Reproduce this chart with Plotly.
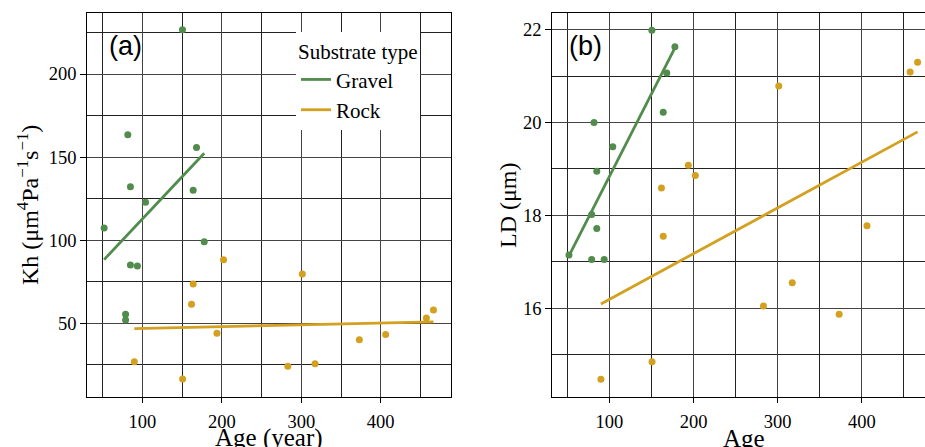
import numpy as np
import plotly.graph_objects as go

# ---------------- data ----------------
gravel_age = [150.4, 81.6, 168.1, 84.9, 163.9, 103.9, 51.8, 177.8, 84.9, 93.7, 78.8, 78.8]
gravel_kh = [226.6, 163.4, 155.8, 132.2, 130.0, 122.8, 107.4, 99.0, 85.0, 84.4, 55.4, 52.0]
gravel_ld = [21.99, 20.0, 21.07, 18.95, 20.22, 19.48, 17.15, 21.63, 17.72, 17.05, 18.02, 17.05]

rock_age = [202.1, 301.3, 163.9, 161.8, 466.4, 457.5, 193.8, 406.2, 373.1, 89.8, 317.3, 283.1, 150.6]
rock_kh = [88.2, 79.6, 73.6, 61.4, 58.0, 53.2, 44.0, 43.2, 40.0, 26.8, 25.6, 24.2, 16.4]
rock_ld = [18.86, 20.79, 17.55, 18.59, 21.30, 21.09, 19.08, 17.78, 15.87, 14.47, 16.55, 16.05, 14.85]

groups = ["Gravel", "Rock"]
panel_labels = ["(a)", "(b)"]
x_titles = ["Age (year)", "Age"]
y_titles = ["Kh (μm<sup>4</sup>Pa<sup>−1</sup>s<sup>−1</sup>)", "LD (μm)"]

GREEN = "#518c4c"
GOLD = "#d3a020"
W, H = 925, 447


def fit(x, y):
    x = np.asarray(x, float)
    y = np.asarray(y, float)
    b, a = np.polyfit(x, y, 1)
    xs = np.array([x.min(), x.max()])
    return xs, a + b * xs


fig = go.Figure()

series = [
    (gravel_age, gravel_kh, gravel_ld, GREEN, groups[0]),
    (rock_age, rock_kh, rock_ld, GOLD, groups[1]),
]

for ax_i, (xa, ya) in enumerate([("x", "y"), ("x2", "y2")]):
    for age, kh, ld, col, name in series:
        yv = kh if ax_i == 0 else ld
        fx, fy = fit(age, yv)
        fig.add_trace(go.Scatter(x=fx, y=fy, mode="lines", line=dict(color=col, width=2.8),
                                 name=name, showlegend=(ax_i == 0), xaxis=xa, yaxis=ya,
                                 hoverinfo="skip"))
        fig.add_trace(go.Scatter(x=age, y=yv, mode="markers", marker=dict(color=col, size=7),
                                 showlegend=False, xaxis=xa, yaxis=ya))

SERIF = "Liberation Serif"
tickfont = dict(family=SERIF, size=18.5, color="black")
grid_major = "#444444"
grid_minor = "#222222"


def xax(domain, rng, anchor):
    return dict(domain=domain, range=rng, tickmode="linear", tick0=0, dtick=100, anchor=anchor,
                showgrid=True, gridcolor=grid_major, gridwidth=1.3,
                minor=dict(dtick=50, tick0=0, showgrid=True, gridcolor=grid_minor, gridwidth=1, ticks=""),
                showline=True, linecolor="black", linewidth=1.3, mirror=True,
                ticks="outside", ticklen=5, tickcolor="black", tickfont=tickfont, zeroline=False,
                ticklabelstandoff=3)


def yax(domain, rng, dtick, minor, anchor):
    return dict(domain=domain, range=rng, tickmode="linear", tick0=0, dtick=dtick, anchor=anchor,
                showgrid=True, gridcolor=grid_major, gridwidth=1.3,
                minor=dict(dtick=minor, tick0=0, showgrid=True, gridcolor=grid_minor, gridwidth=1, ticks=""),
                showline=True, linecolor="black", linewidth=1.3, mirror=True,
                ticks="outside", ticklen=6, tickcolor="black", tickfont=tickfont, zeroline=False)


ydom = [1 - 396.7 / H, 1 - 12.7 / H]
fig.update_layout(
    width=W, height=H, margin=dict(l=0, r=0, t=0, b=0),
    paper_bgcolor="white", plot_bgcolor="white",
    xaxis=xax([87.3 / W, 450.7 / W], [30.6, 488.1], "y"),
    yaxis=yax(ydom, [5.8, 236.9], 50, 25, "x"),
    xaxis2=xax([552.3 / W, 1.0], [32.0, 475.2], "y2"),
    yaxis2=yax(ydom, [14.096, 22.366], 2, 1, "x2"),
    legend=dict(x=296 / W, y=1 - 32 / H, xanchor="left", yanchor="top",
                bgcolor="white", borderwidth=0,
                font=dict(family=SERIF, size=21, color="black"),
                title=dict(text="Substrate type", font=dict(family=SERIF, size=21, color="black")),
                tracegroupgap=0),
    showlegend=True,
)

ann = []
# panel labels
for lab, cx in zip(panel_labels, [125.5, 585.5]):
    ann.append(dict(text=lab, x=cx / W, y=1 - 45.8 / H, xref="paper", yref="paper",
                    xanchor="center", yanchor="middle", showarrow=False,
                    font=dict(family="Liberation Sans", size=27, color="black")))
# axis titles
for t, cx in zip(x_titles, [269, 744]):
    ann.append(dict(text=t, x=cx / W, y=1 - 438 / H, xref="paper", yref="paper",
                    xanchor="center", yanchor="middle", showarrow=False,
                    font=dict(family=SERIF, size=25, color="black")))
for t, cx in zip(y_titles, [28, 508]):
    ann.append(dict(text=t, x=cx / W, y=1 - 205 / H, xref="paper", yref="paper",
                    xanchor="center", yanchor="middle", showarrow=False, textangle=-90,
                    font=dict(family=SERIF, size=24, color="black")))
fig.update_layout(annotations=ann)

fig.write_html("out.html")
